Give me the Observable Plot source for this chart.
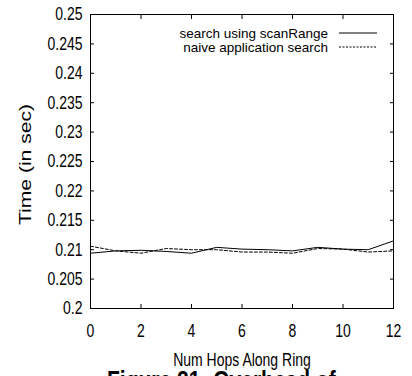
<!DOCTYPE html>
<html>
<head>
<meta charset="utf-8">
<script src="https://cdn.jsdelivr.net/npm/d3@7"></script>
<script src="https://cdn.jsdelivr.net/npm/@observablehq/plot@0.6"></script>
<style>
  body { margin: 0; background: white; }
  #wrap { position: relative; width: 412px; height: 376px; overflow: hidden; background: white; font-family: "Liberation Sans", Arial, Helvetica, sans-serif; }
  #legend { position: absolute; left: 0; top: 0; }
  #caption { position: absolute; left: 107px; top: 366px; font-weight: bold; font-size: 21px; line-height: 21px; white-space: nowrap; transform: scaleY(1.25); transform-origin: top left; }
</style>
</head>
<body>
<div id="wrap"></div>
<script>
const hops = [0, 1, 2, 3, 4, 5, 6, 7, 8, 9, 10, 11, 12];
const scanRangeTimes = [0.2094, 0.2098, 0.2099, 0.2097, 0.2094, 0.2104, 0.2101, 0.2100, 0.2098, 0.2104, 0.2101, 0.2100, 0.2115];
const naiveTimes = [0.2106, 0.2098, 0.2094, 0.2102, 0.2100, 0.2100, 0.2096, 0.2096, 0.2094, 0.2102, 0.2101, 0.2096, 0.2098];
const seriesNames = ["search using scanRange", "naive application search"];
const xTicks = [0, 2, 4, 6, 8, 10, 12];
const yTicks = [0.2, 0.205, 0.21, 0.215, 0.22, 0.225, 0.23, 0.235, 0.24, 0.245, 0.25];
const xLabel = "Num Hops Along Ring";
const yLabel = "Time (in sec)";
const captionText = "Figure 21: Overhead of";

const dashes = "3,2";
const rows = hops.flatMap((h, i) => [
  {hop: h, time: scanRangeTimes[i], series: seriesNames[0]},
  {hop: h, time: naiveTimes[i], series: seriesNames[1]}
]);

const font = '"Liberation Sans", Arial, Helvetica, sans-serif';
const plot = Plot.plot({
  width: 412,
  height: 376,
  marginLeft: 90,
  marginRight: 19,
  marginTop: 14,
  marginBottom: 68,
  style: {fontFamily: font, fontSize: "14px", color: "black", background: "white"},
  x: {domain: [0, 12], label: null},
  y: {domain: [0.2, 0.25], label: null},
  marks: [
    Plot.frame({stroke: "black"}),
    // inward tick marks on all four sides
    Plot.axisY(yTicks, {anchor: "left", tickSize: 4, dx: 4, tickFormat: () => "", label: null}),
    Plot.axisY(yTicks, {anchor: "right", tickSize: 4, dx: -4, tickFormat: () => "", label: null}),
    Plot.axisX(xTicks, {anchor: "bottom", tickSize: 4, dy: -4, tickFormat: () => "", label: null}),
    Plot.axisX(xTicks, {anchor: "top", tickSize: 4, dy: 4, tickFormat: () => "", label: null}),
    // tick labels
    Plot.axisY(yTicks, {anchor: "left", tickSize: 0, tickPadding: 8, tickFormat: d => String(d), label: null}),
    Plot.axisX(xTicks, {anchor: "bottom", tickSize: 0, tickPadding: 15, tickFormat: d => String(d), label: null}),
    Plot.text([xLabel], {frameAnchor: "bottom", lineAnchor: "middle", textAnchor: "middle", dy: 52, text: d => d}),
    Plot.text([yLabel], {frameAnchor: "left", lineAnchor: "middle", textAnchor: "middle", dx: -65, dy: 3, rotate: -90, text: d => d, fontSize: 16}),
    Plot.line(rows.filter(d => d.series === seriesNames[0]), {x: "hop", y: "time", stroke: "black", strokeWidth: 1}),
    Plot.line(rows.filter(d => d.series === seriesNames[1]), {x: "hop", y: "time", stroke: "black", strokeWidth: 1, strokeDasharray: dashes})
  ]
});

// vertically stretch text to mimic the original rendering
d3.select(plot).selectAll("text").each(function() {
  const t = this.getAttribute("transform") || "";
  if (t.includes("rotate(-90)")) this.setAttribute("transform", t + " scale(1.32,1)");
  else this.setAttribute("transform", t + " scale(1,1.32)");
});

const wrap = document.getElementById("wrap");
wrap.appendChild(plot);

// legend overlay (top right, inside the frame)
const leg = d3.select(wrap).append("svg").attr("id", "legend").attr("width", 412).attr("height", 60)
  .style("font-family", font).style("font-size", "13.5px");
const legRows = [{name: seriesNames[0], dash: null}, {name: seriesNames[1], dash: dashes}];
legRows.forEach((r, i) => {
  const cy = 33 + i * 14;
  leg.append("text").attr("text-anchor", "end").attr("transform", `translate(328,${cy})`).attr("dy", "0.35em").text(r.name);
  const ln = leg.append("line").attr("x1", 339).attr("x2", 377).attr("y1", cy).attr("y2", cy).attr("stroke", "black").attr("stroke-width", 1);
  if (r.dash) ln.attr("stroke-dasharray", "2,1.5");
});

const cap = document.createElement("div");
cap.id = "caption";
cap.textContent = captionText;
wrap.appendChild(cap);
</script>
</body>
</html>
